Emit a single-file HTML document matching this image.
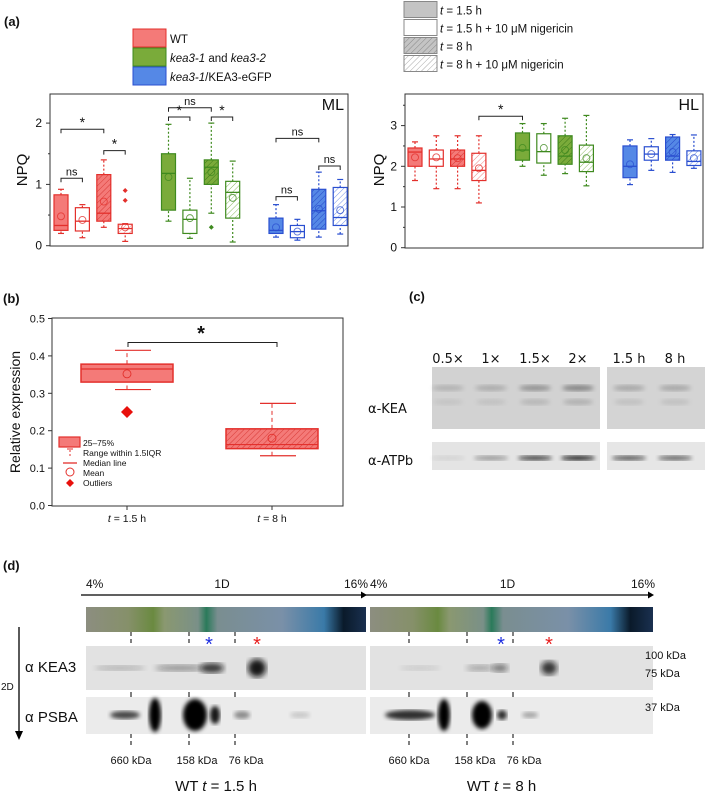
<!DOCTYPE html>
<html><head><meta charset="utf-8">
<style>
html,body{margin:0;padding:0;background:#fff;overflow:hidden;}
svg{display:block;font-family:"Liberation Sans",sans-serif;}
</style></head>
<body>
<svg id="fig" width="709" height="792" viewBox="0 0 709 792" xmlns="http://www.w3.org/2000/svg">
<defs>
<pattern id="hr" width="4" height="4" patternUnits="userSpaceOnUse" patternTransform="rotate(45)"><rect width="4" height="4" fill="#f47a78"/><line x1="0" y1="0" x2="0" y2="4" stroke="#d83a36" stroke-width="1"/></pattern>
<pattern id="hg" width="4" height="4" patternUnits="userSpaceOnUse" patternTransform="rotate(45)"><rect width="4" height="4" fill="#7aab3a"/><line x1="0" y1="0" x2="0" y2="4" stroke="#3f7a1a" stroke-width="1"/></pattern>
<pattern id="hb" width="4" height="4" patternUnits="userSpaceOnUse" patternTransform="rotate(45)"><rect width="4" height="4" fill="#5588e6"/><line x1="0" y1="0" x2="0" y2="4" stroke="#2448c8" stroke-width="1"/></pattern>
<pattern id="or" width="4" height="4" patternUnits="userSpaceOnUse" patternTransform="rotate(45)"><rect width="4" height="4" fill="#fff"/><line x1="0" y1="0" x2="0" y2="4" stroke="#f08080" stroke-width="1"/></pattern>
<pattern id="og" width="4" height="4" patternUnits="userSpaceOnUse" patternTransform="rotate(45)"><rect width="4" height="4" fill="#fff"/><line x1="0" y1="0" x2="0" y2="4" stroke="#8ab860" stroke-width="1"/></pattern>
<pattern id="ob" width="4" height="4" patternUnits="userSpaceOnUse" patternTransform="rotate(45)"><rect width="4" height="4" fill="#fff"/><line x1="0" y1="0" x2="0" y2="4" stroke="#7090e8" stroke-width="1"/></pattern>
<pattern id="hgray" width="4" height="4" patternUnits="userSpaceOnUse" patternTransform="rotate(45)"><rect width="4" height="4" fill="#c4c4c4"/><line x1="0" y1="0" x2="0" y2="4" stroke="#888" stroke-width="1"/></pattern>
<pattern id="ogray" width="4" height="4" patternUnits="userSpaceOnUse" patternTransform="rotate(45)"><rect width="4" height="4" fill="#fff"/><line x1="0" y1="0" x2="0" y2="4" stroke="#aaa" stroke-width="1"/></pattern>
<filter id="blur2"><feGaussianBlur stdDeviation="2"/></filter>
<filter id="blur4"><feGaussianBlur stdDeviation="3"/></filter>
<linearGradient id="gel" x1="0" x2="1" y1="0" y2="0">
<stop offset="0" stop-color="#8c8e80"/><stop offset="0.15" stop-color="#86906a"/><stop offset="0.24" stop-color="#6a8a40"/><stop offset="0.28" stop-color="#8a9870"/><stop offset="0.4" stop-color="#7a9088"/><stop offset="0.43" stop-color="#2a7a5a"/><stop offset="0.47" stop-color="#7a8e90"/><stop offset="0.7" stop-color="#7a90a8"/><stop offset="0.85" stop-color="#3a7aa8"/><stop offset="0.92" stop-color="#0a1a2a"/><stop offset="1" stop-color="#1a3050"/>
</linearGradient>
</defs>
<g id="root"></g>
</svg>
<script>
// ---- data panel (a) ML: [min,q1,median,q3,max,mean]
const groupsML = ["WT","kea3","KEA3-eGFP"];
const mlStats = [
 [[0.2,0.25,0.33,0.83,0.92,0.48],[0.13,0.24,0.4,0.62,0.67,0.42],[0.3,0.4,0.53,1.16,1.4,0.72],[0.07,0.2,0.28,0.35,0.36,0.3]],
 [[0.4,0.58,1.18,1.5,1.98,1.12],[0.12,0.2,0.43,0.58,1.1,0.45],[0.53,1.0,1.28,1.4,2.0,1.2],[0.06,0.45,0.87,1.05,1.38,0.78]],
 [[0.14,0.2,0.25,0.45,0.67,0.3],[0.09,0.13,0.23,0.33,0.43,0.23],[0.14,0.27,0.57,0.92,1.2,0.6],[0.19,0.33,0.46,0.95,1.08,0.58]]
];
const mlOutliers = [[0,3,0.74],[0,3,0.9],[1,2,0.3]];
const mlBrackets = [[0,0,0,2,1.9,"*"],[0,0,0,1,1.1,"ns"],[0,2,0,3,1.55,"*"],[1,0,1,2,2.25,"ns"],[1,0,1,1,2.1,"*"],[1,2,1,3,2.1,"*"],[2,0,2,2,1.75,"ns"],[2,0,2,1,0.8,"ns"],[2,2,2,3,1.3,"ns"]];
const mlTicks = [0,1,2];
// ---- HL
const hlStats = [
 [[1.65,2.0,2.35,2.45,2.6,2.22],[1.45,2.0,2.18,2.4,2.75,2.22],[1.45,2.0,2.18,2.4,2.75,2.2],[1.1,1.65,1.9,2.32,2.75,1.95]],
 [[2.0,2.15,2.4,2.82,3.05,2.45],[1.78,2.08,2.36,2.8,3.05,2.45],[1.82,2.05,2.25,2.75,3.18,2.4],[1.52,1.87,2.1,2.52,3.25,2.2]],
 [[1.55,1.72,2.0,2.5,2.65,2.05],[1.9,2.15,2.3,2.48,2.68,2.3],[1.85,2.15,2.25,2.72,2.78,2.35],[1.95,2.02,2.12,2.38,2.77,2.2]]
];
const hlBrackets = [[0,3,1,0,3.23,"*"]];
const hlTicks = [0,1,2,3];
// ---- panel (b)
const bCategories = ["t=1.5 h","t=8 h"];
const bStats = [[0.31,0.33,0.365,0.378,0.415,0.352],[0.133,0.152,0.163,0.205,0.273,0.18]];
const bOutliers = [[0,0.25]];
const bTicks = [0,0.1,0.2,0.3,0.4,0.5];

const NS="http://www.w3.org/2000/svg";
const root=document.getElementById('root');
function el(tag,attrs,parent,text){const e=document.createElementNS(NS,tag);for(const k in attrs)e.setAttribute(k,attrs[k]);if(text!==undefined)e.textContent=text;(parent||root).appendChild(e);return e;}
function txt(x,y,s,size,parent,extra){const a={x:x,y:y,'font-size':size,fill:'#111'};if(extra)for(const k in extra)a[k]=extra[k];return el('text',a,parent,s);}

const strokeC=["#e3302c","#3f8a1f","#2a4fd0"];
const fillC=["#f47a78","#7aab3a","#5588e6"];
const hatchId=["hr","hg","hb"],openHatch=["or","og","ob"];

function drawBoxPlot(gp,stats,yf,xf,w,outl){
 stats.forEach((grp,g)=>grp.forEach((s,i)=>{
  const x=xf(g,i),c=strokeC[g];
  const fill=[fillC[g],'#fff','url(#'+hatchId[g]+')','url(#'+openHatch[g]+')'][i];
  const b=el('g',{},gp);
  
  
  el('line',{x1:x,x2:x,y1:yf(s[0]),y2:yf(s[1]),stroke:c,'stroke-width':1.2,'stroke-dasharray':'2,2'},b);
  el('line',{x1:x,x2:x,y1:yf(s[3]),y2:yf(s[4]),stroke:c,'stroke-width':1.2,'stroke-dasharray':'2,2'},b);
  el('line',{x1:x-3,x2:x+3,y1:yf(s[0]),y2:yf(s[0]),stroke:c,'stroke-width':1.2},b);
  el('line',{x1:x-3,x2:x+3,y1:yf(s[4]),y2:yf(s[4]),stroke:c,'stroke-width':1.2},b);
  el('rect',{x:x-w/2,y:yf(s[3]),width:w,height:yf(s[1])-yf(s[3]),fill:fill,stroke:c,'stroke-width':1.2},b);
  el('line',{x1:x-w/2,x2:x+w/2,y1:yf(s[2]),y2:yf(s[2]),stroke:c,'stroke-width':1.3},b);
  el('circle',{cx:x,cy:yf(s[5]),r:3.5,fill:'none',stroke:c,'stroke-width':0.9,opacity:0.8},b);
 }));
 (outl||[]).forEach(o=>{const x=xf(o[0],o[1]),y=yf(o[2]);
  const p=el('path',{d:`M${x},${y-2.5}L${x+2.5},${y}L${x},${y+2.5}L${x-2.5},${y}Z`,fill:strokeC[o[0]]},gp);
  
  });
}
function drawBrackets(gp,list,yf,xf){
 list.forEach(b=>{const x1=xf(b[0],b[1]),x2=xf(b[2],b[3]),y=yf(b[4]);
  const g=el('g',{},gp);
  
  
  el('path',{d:`M${x1},${y+4}V${y}H${x2}V${y+4}`,fill:'none',stroke:'#222','stroke-width':1},g);
  txt((x1+x2)/2,b[5]=="*"?y-2:y-3,b[5],b[5]=="*"?14:11,g,{'text-anchor':'middle'});
 });
}
function axisFrame(gp,x0,y0,x1,y1,ticks,yf,minor){
 el('rect',{x:x0,y:y0,width:x1-x0,height:y1-y0,fill:'none',stroke:'#333','stroke-width':1},gp);
 ticks.forEach(t=>{const y=yf(t);el('line',{x1:x0-4,x2:x0,y1:y,y2:y,stroke:'#333'},gp);
  const l=txt(x0-8,y+4,String(t),12,gp,{'text-anchor':'end'});
  
  });
 minor.forEach(t=>{const y=yf(t);el('line',{x1:x0-2,x2:x0,y1:y,y2:y,stroke:'#333'},gp);});
}

// ===== Panel (a) legend
const la=el('g',{});  
txt(4,26,'(a)',13,la,{'font-weight':'bold'});
[0,1,2].forEach(i=>{
 el('rect',{x:133,y:29+i*19,width:33,height:18,fill:fillC[i],stroke:strokeC[i],'stroke-width':1},la);
});
txt(170,43,'WT',11.5,la);
const t2=txt(170,62,'',11.5,la);el('tspan',{'font-style':'italic'},t2,'kea3-1');el('tspan',{},t2,' and ');el('tspan',{'font-style':'italic'},t2,'kea3-2');
const t3=txt(170,81,'',11.5,la);el('tspan',{'font-style':'italic'},t3,'kea3-1');el('tspan',{},t3,'/KEA3-eGFP');
const legT=[["#c4c4c4","1.5 h"],["#fff","1.5 h + 10 μM nigericin"],["url(#hgray)","8 h"],["url(#ogray)","8 h + 10 μM nigericin"]];
legT.forEach((l,i)=>{el('rect',{x:404,y:1.5+i*18,width:33,height:16,fill:l[0],stroke:'#888','stroke-width':1},la);
 const t=txt(440,14.5+i*18,'',11.5,la);el('tspan',{'font-style':'italic'},t,'t');el('tspan',{},t,' = '+l[1]);});

// ===== ML plot
const yML=v=>245.7-v*61.3, xML=(g,i)=>61+g*107.5+i*21.4;
const gML=el('g',{});  
axisFrame(gML,50,94,348,246,mlTicks,yML,[0.5,1.5]);
txt(344,110,'ML',16,gML,{'text-anchor':'end'});
txt(0,0,'NPQ',15,gML,{transform:'translate(27,170) rotate(-90)','text-anchor':'middle'});
drawBoxPlot(gML,mlStats,yML,xML,14,mlOutliers);
drawBrackets(gML,mlBrackets,yML,xML);

// ===== HL plot
const yHL=v=>247.7-v*40.7, xHL=(g,i)=>415+g*107.5+i*21.3;
const gHL=el('g',{});  
axisFrame(gHL,405,94,703,248,hlTicks,yHL,[0.5,1.5,2.5,3.5]);
txt(699,110,'HL',16,gHL,{'text-anchor':'end'});
txt(0,0,'NPQ',15,gHL,{transform:'translate(384,170) rotate(-90)','text-anchor':'middle'});
drawBoxPlot(gHL,hlStats,yHL,xHL,14,[]);
drawBrackets(gHL,hlBrackets,yHL,xHL);

// ===== Panel (b)
const yB=v=>505.5-v*374, xB=i=>127+i*145;
const gB=el('g',{});  
txt(3,303,'(b)',13,gB,{'font-weight':'bold'});
el('rect',{x:52,y:318,width:291,height:188,fill:'none',stroke:'#333'},gB);
bTicks.forEach(t=>{const y=yB(t);el('line',{x1:48,x2:52,y1:y,y2:y,stroke:'#333'},gB);
 const l=txt(45,y+4,t.toFixed(1),11,gB,{'text-anchor':'end'});
 
 });
txt(0,0,'Relative expression',14,gB,{transform:'translate(20,412) rotate(-90)','text-anchor':'middle'});
bCategories.forEach((c,i)=>{const x=xB(i),s=bStats[i];
 el('line',{x1:x,x2:x,y1:506,y2:510,stroke:'#333'},gB);
 const t=txt(x,522,'',10.5,gB,{'text-anchor':'middle'});el('tspan',{'font-style':'italic'},t,'t');el('tspan',{},t,' = '+c.split('=')[1]);
 const g=el('g',{},gB);
 
 
 el('line',{x1:x,x2:x,y1:yB(s[0]),y2:yB(s[1]),stroke:'#e3302c','stroke-dasharray':'4,3'},g);
 el('line',{x1:x,x2:x,y1:yB(s[3]),y2:yB(s[4]),stroke:'#e3302c','stroke-dasharray':'4,3'},g);
 el('line',{x1:x-12,x2:x+24,y1:yB(s[0]),y2:yB(s[0]),stroke:'#e3302c','stroke-width':1.2},g);
 el('line',{x1:x-12,x2:x+24,y1:yB(s[4]),y2:yB(s[4]),stroke:'#e3302c','stroke-width':1.2},g);
 el('rect',{x:x-46,y:yB(s[3]),width:92,height:yB(s[1])-yB(s[3]),fill:i==0?'#f47a78':'url(#hr)',stroke:'#e3302c','stroke-width':1.5},g);
 el('line',{x1:x-46,x2:x+46,y1:yB(s[2]),y2:yB(s[2]),stroke:'#e3302c','stroke-width':1.2},g);
 el('circle',{cx:x,cy:yB(s[5]),r:4,fill:'none',stroke:'#e3302c','stroke-width':0.9},g);
});
bOutliers.forEach(o=>{const x=xB(o[0]),y=yB(o[1]);
 const p=el('path',{d:`M${x},${y-6}L${x+6},${y}L${x},${y+6}L${x-6},${y}Z`,fill:'#e8100c'},gB);
 
 });
el('path',{d:`M${xB(0)+1},347V342.5H${xB(1)+5}V347`,fill:'none',stroke:'#222'},gB);
txt(201,340,'*',20,gB,{'text-anchor':'middle','font-weight':'bold'});
const lb=el('g',{},gB);  
el('rect',{x:59,y:437,width:21,height:10,fill:'#f47a78',stroke:'#e3302c','stroke-width':1.2},lb);
txt(83,446,'25–75%',8.5,lb);
el('line',{x1:70,x2:70,y1:450,y2:457,stroke:'#e3302c','stroke-dasharray':'2,2'},lb);
el('line',{x1:67,x2:73,y1:449,y2:449,stroke:'#e3302c'},lb);
txt(83,456,'Range within 1.5IQR',8.5,lb);
el('line',{x1:63,x2:77,y1:463,y2:463,stroke:'#e3302c','stroke-width':1.3},lb);
txt(83,466,'Median line',8.5,lb);
el('circle',{cx:70,cy:472,r:4,fill:'none',stroke:'#e3302c'},lb);
txt(83,476,'Mean',8.5,lb);
el('path',{d:'M70,479L74,483L70,487L66,483Z',fill:'#e8100c'},lb);
txt(83,486,'Outliers',8.5,lb);

// ===== Panel (c) blots
const gC=el('g',{});  
txt(409,301,'(c)',13,gC,{'font-weight':'bold'});
const lanes=[["0.5×",448,0.25,0.08],["1×",491,0.3,0.35],["1.5×",535,0.5,0.75],["2×",578,0.62,0.9],["1.5 h",629,0.35,0.65],["8 h",675,0.35,0.6]];
lanes.forEach(l=>{txt(l[1],363,l[0],13,gC,{'text-anchor':'middle','font-family':'DejaVu Sans, sans-serif'});});
el('rect',{x:432,y:367,width:168,height:62,fill:'#d2d2d2'},gC);
el('rect',{x:607,y:367,width:98,height:62,fill:'#d4d4d4'},gC);
el('rect',{x:432,y:442,width:168,height:28,fill:'#e4e4e4'},gC);
el('rect',{x:607,y:442,width:98,height:28,fill:'#e6e6e6'},gC);
lanes.forEach(l=>{
 el('ellipse',{cx:l[1],cy:388,rx:16,ry:3,fill:'#555',opacity:l[2],filter:'url(#blur2)'},gC);
 el('ellipse',{cx:l[1],cy:402,rx:15,ry:3,fill:'#777',opacity:l[2]*0.6,filter:'url(#blur2)'},gC);
 el('ellipse',{cx:l[1],cy:458,rx:17,ry:2.5,fill:'#111',opacity:l[3],filter:'url(#blur2)'},gC);
});
txt(368,413,'α-KEA',13,gC,{'font-family':'DejaVu Sans, sans-serif'});
txt(368,465,'α-ATPb',13,gC,{'font-family':'DejaVu Sans, sans-serif'});

// ===== Panel (d)
const gD=el('g',{});  
txt(3,570,'(d)',13,gD,{'font-weight':'bold'});
function gelHalf(x0,x1,dash,blue,red,spotsK,spotsP,label){
 el('line',{x1:x0-5,x2:x1-4,y1:595,y2:595,stroke:'#000','stroke-width':1.3},gD);
 el('path',{d:`M${x1-5},591.5L${x1+1},595L${x1-5},598.5Z`,fill:'#000'},gD);
 txt(x0,588,'4%',12,gD);txt((x0+x1)/2-4,588,'1D',12,gD,{'text-anchor':'middle'});txt(x1-22,588,'16%',12,gD);
 el('rect',{x:x0,y:607,width:x1-x0,height:25,fill:'url(#gel)'},gD);
 el('rect',{x:x0,y:646,width:x1-x0,height:44,fill:'#e2e2e2'},gD);
 el('rect',{x:x0,y:697,width:x1-x0,height:37,fill:'#ebebeb'},gD);
 spotsK.forEach(s=>el('ellipse',{cx:s[0],cy:668,rx:s[1],ry:s[2],fill:'#111',opacity:s[3],filter:'url(#blur4)'},gD));
 spotsP.forEach(s=>el('ellipse',{cx:s[0],cy:715,rx:s[1],ry:s[2],fill:'#000',opacity:s[3],filter:'url(#blur2)'},gD));
 dash.forEach(x=>{el('line',{x1:x,x2:x,y1:632,y2:646,stroke:'#000','stroke-dasharray':'4,3'},gD);
  el('line',{x1:x,x2:x,y1:692,y2:697,stroke:'#000'},gD);
  el('line',{x1:x,x2:x,y1:734,y2:746,stroke:'#000','stroke-dasharray':'4,3'},gD);});
 txt(blue,651,'*',20,gD,{fill:'#2030e0','text-anchor':'middle'});
 txt(red,651,'*',20,gD,{fill:'#e82020','text-anchor':'middle'});
 txt(dash[0],764,'660 kDa',11,gD,{'text-anchor':'middle'});
 txt(dash[1]+8,764,'158 kDa',11,gD,{'text-anchor':'middle'});
 txt(dash[2]+11,764,'76 kDa',11,gD,{'text-anchor':'middle'});
 const t=txt((x0+x1)/2-10,791,'WT  ',15,gD,{'text-anchor':'middle'});el('tspan',{'font-style':'italic'},t,'t');el('tspan',{},t,' = '+label);
}
gelHalf(86,366,[131,189,235],209,257,[[120,25,2.5,0.25],[180,25,3,0.4],[212,12,5,0.8],[257,9,9,0.95]],[[125,15,4,0.7],[155,6,17,1],[195,12,16,1],[215,5,9,0.9],[242,8,4,0.4],[300,10,3,0.15]],'1.5 h');
gelHalf(370,653,[409,467,513],501,549,[[420,20,2.5,0.12],[480,14,3,0.3],[500,8,4,0.5],[549,8,7,0.8]],[[410,25,5,0.8],[444,6,16,1],[482,10,14,1],[502,5,5,0.8],[530,8,3,0.3]],'8 h');
txt(25,672,'α KEA3',15,gD);txt(25,722,'α PSBA',15,gD);
txt(1,690,'2D',10,gD);
el('line',{x1:19,x2:19,y1:627,y2:733,stroke:'#000','stroke-width':1.3},gD);
el('path',{d:'M15,731L19,740L23,731Z',fill:'#000'},gD);
txt(645,659,'100 kDa',11,gD);txt(645,677,'75 kDa',11,gD);txt(645,711,'37 kDa',11,gD);
</script>
</body></html>
